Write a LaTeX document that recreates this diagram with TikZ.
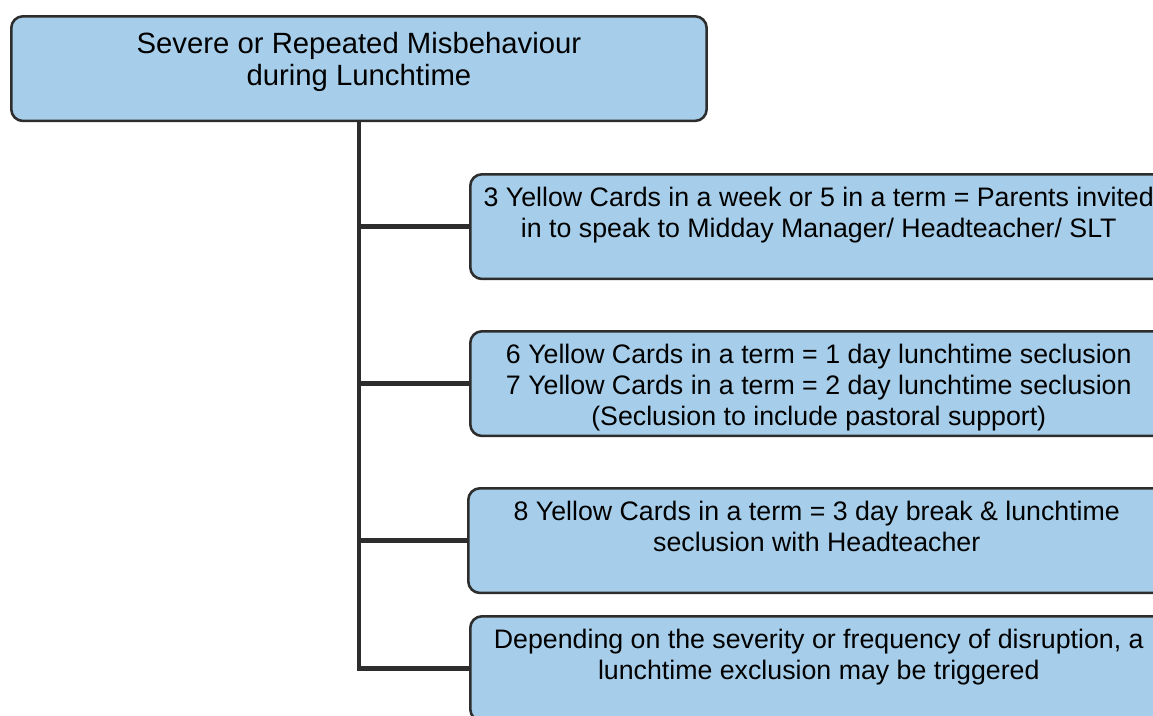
\documentclass[tikz,border=0pt]{standalone}
\usepackage{fontspec}
\setmainfont{Liberation Sans}
\definecolor{azzurro}{RGB}{166,206,234}
\definecolor{bordo}{RGB}{45,45,45}
\newcommand{\testobox}[2][34pt]{\parbox[t][#1][t]{295pt}{\centering #2}}

\begin{document}
\begin{tikzpicture}[x=0.43pt, y=-0.43pt,
    scatola/.style={draw=bordo, line width=1.1pt, fill=azzurro, rounded corners=5pt,
        anchor=north west, minimum width=299.7pt, inner xsep=2pt, inner ysep=5.5pt,
        font=\fontsize{11.5}{13.3}\selectfont},
    ramo/.style={draw=bordo, line width=2.1pt}]
    \useasboundingbox (0,0) rectangle (1153,715);
    \clip (0,0) rectangle (1153,715);

    % Problema
    \node[scatola, minimum width=298.9pt, inner ysep=7pt,
        font=\fontsize{12.6}{13.6}\selectfont] (problema) at (10,15)
        {\testobox[31pt]{Severe or Repeated Misbehaviour\\ during Lunchtime}};

    % Sanzioni
    \node[scatola] (passo1) at (469,173)
        {\testobox{3 Yellow Cards in a week or 5 in a term = Parents invited\\ in to speak to Midday Manager/ Headteacher/ SLT}};
    \node[scatola] (passo2) at (469,330)
        {\testobox{6 Yellow Cards in a term = 1 day lunchtime seclusion\\ 7 Yellow Cards in a term = 2 day lunchtime seclusion\\ (Seclusion to include pastoral support)}};
    \node[scatola] (passo3) at (467,487)
        {\testobox{8 Yellow Cards in a term = 3 day break \& lunchtime\\ seclusion with Headteacher}};
    \node[scatola] (passo4) at (469,615)
        {\testobox{Depending on the severity or frequency of disruption, a\\ lunchtime exclusion may be triggered}};

    % Collegamenti
    \draw[ramo] (problema.south) |- (passo4.west);
    \foreach \p in {passo1, passo2, passo3}
        \draw[ramo] (problema.south |- \p.west) -- (\p.west);
\end{tikzpicture}
\end{document}
